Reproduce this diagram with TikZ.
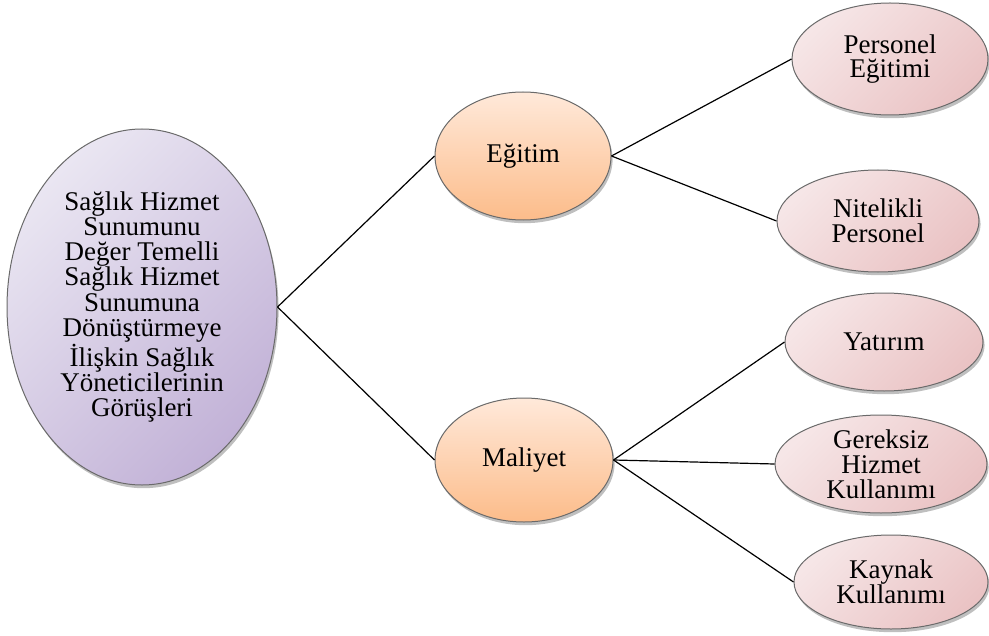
\documentclass[tikz,border=0pt]{standalone}
\usepackage{fontspec}
\setmainfont{Liberation Serif}
\usetikzlibrary{shapes.geometric,shadows}

\definecolor{rootlight}{HTML}{EAE6F2}
\definecolor{rootdark}{HTML}{C2B2D7}
\definecolor{midlight}{HTML}{FFE9DA}
\definecolor{middark}{HTML}{FCBC8A}
\definecolor{leaflight}{HTML}{F6E6E7}
\definecolor{leafdark}{HTML}{EAC3C4}
\definecolor{rimgray}{HTML}{6A6A6A}

\tikzset{
    bubble/.style={ellipse, draw=rimgray, line width=0.5pt, inner sep=0pt,
        align=center, font=\fontsize{13.5}{12.4}\selectfont,
        drop shadow={shadow xshift=0.8pt, shadow yshift=-1.6pt, opacity=0.25, fill=black}},
    rootbubble/.style={bubble, top color=rootlight, bottom color=rootdark, shading angle=45},
    midbubble/.style={bubble, top color=midlight, bottom color=middark},
    leafbubble/.style={bubble, top color=leaflight, bottom color=leafdark, shading angle=45},
    link/.style={draw, line width=0.6pt}
}

\begin{document}
\begin{tikzpicture}[x=0.5pt, y=-0.5pt]
                \useasboundingbox (0,0) rectangle (989,636);
                % root
                \node [rootbubble, minimum width=135pt, minimum height=178pt,
                       font=\fontsize{13.5}{12.6}\selectfont] (views) at (142,307)
                      {Sağlık Hizmet\\Sunumunu\\Değer Temelli\\Sağlık Hizmet\\Sunumuna\\Dönüştürmeye\\İlişkin Sağlık\\Yöneticilerinin\\Görüşleri};
                % themes
                \node [midbubble, minimum width=88pt, minimum height=64pt] (egitim) at (523,156) {Eğitim};
                \node [midbubble, minimum width=89pt, minimum height=62pt] (maliyet) at (524,460) {Maliyet};
                % sub-themes
                \node [leafbubble, minimum width=98pt, minimum height=56pt] (personel) at (890,59) {Personel\\Eğitimi};
                \node [leafbubble, minimum width=101pt, minimum height=51pt] (nitelikli) at (878,221) {Nitelikli\\Personel};
                \node [leafbubble, minimum width=99pt, minimum height=49pt] (yatirim) at (884,342) {Yatırım};
                \node [leafbubble, minimum width=106pt, minimum height=49pt] (gereksiz) at (881,464) {Gereksiz\\Hizmet\\Kullanımı};
                \node [leafbubble, minimum width=97pt, minimum height=47pt] (kaynak) at (891,582) {Kaynak\\Kullanımı};
                % connectors
                \draw [link] (views.east) -- (egitim.west);
                \draw [link] (views.east) -- (maliyet.west);
                \draw [link] (egitim.east) -- (personel.west);
                \draw [link] (egitim.east) -- (nitelikli.west);
                \draw [link] (maliyet.east) -- (yatirim.west);
                \draw [link] (maliyet.east) -- (gereksiz.west);
                \draw [link] (maliyet.east) -- (kaynak.west);
            \end{tikzpicture}
\end{document}
